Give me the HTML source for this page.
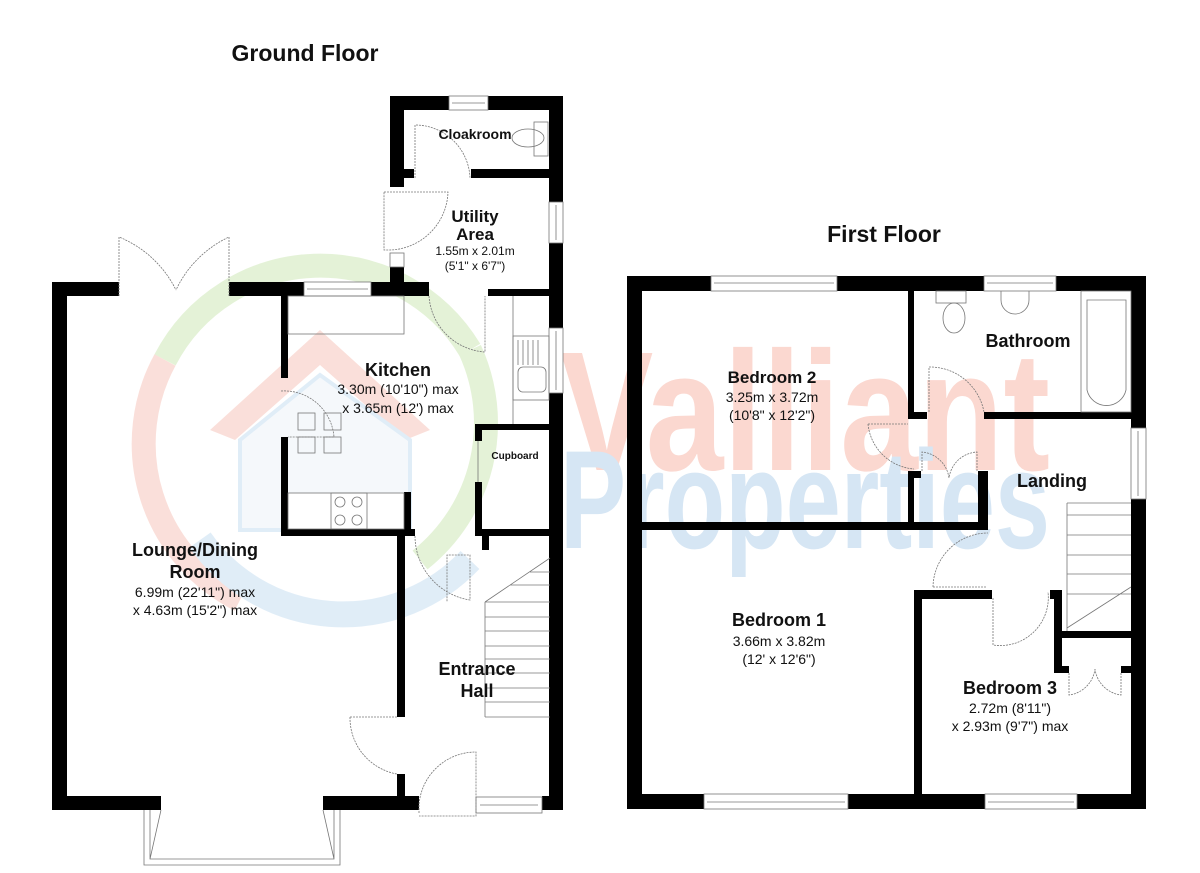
<!DOCTYPE html>
<html><head><meta charset="utf-8"><style>
html,body{margin:0;padding:0;background:#fff;}
svg{display:block;}
text{font-family:"Liberation Sans",Arial,sans-serif;fill:#111;}
.b{font-weight:bold;}
</style></head><body>
<svg width="1200" height="873" viewBox="0 0 1200 873" xmlns="http://www.w3.org/2000/svg">
<!-- watermark -->
<g opacity="0.55">
  <path d="M 165 360 A 175 175 0 0 1 470 350" fill="none" stroke="#cfe9b8" stroke-width="24"/>
  <path d="M 165 360 A 175 175 0 0 0 240 600" fill="none" stroke="#f7c6bc" stroke-width="24"/>
  <path d="M 470 350 A 175 175 0 0 1 420 560" fill="none" stroke="#cfe9b8" stroke-width="24"/>
  <path d="M 200 540 A 175 175 0 0 0 470 560" fill="none" stroke="#c8dff2" stroke-width="26"/>
  <path d="M 210 430 L 320 330 L 430 430 L 405 440 L 320 365 L 235 440 Z" fill="#f7c6bc"/>
  <path d="M 240 440 L 320 375 L 410 440 L 410 530 L 240 530 Z" fill="#eef3f9" stroke="#c8dff2" stroke-width="4"/>
</g>
<text x="560" y="470" font-size="170" font-weight="bold" textLength="490" lengthAdjust="spacingAndGlyphs" style="fill:#fbd8d0">Valliant</text>
<text x="560" y="548" font-size="140" font-weight="bold" textLength="490" lengthAdjust="spacingAndGlyphs" style="fill:#d6e6f4">Properties</text>

<!-- titles -->
<text x="305" y="61" font-size="23" class="b" text-anchor="middle">Ground Floor</text>
<text x="884" y="242" font-size="23" class="b" text-anchor="middle">First Floor</text>

<!-- GROUND FLOOR walls -->
<g fill="#000">
  <rect x="52" y="282" width="15" height="528"/>
  <rect x="52" y="282" width="67" height="14"/>
  <rect x="229" y="282" width="200" height="14"/>
  <rect x="390" y="96" width="14" height="91"/>
  <rect x="390" y="96" width="173" height="14"/>
  <rect x="390" y="267" width="14" height="29"/>
  <rect x="390" y="169" width="24" height="9"/>
  <rect x="471" y="169" width="80" height="9"/>
  <rect x="549" y="96" width="14" height="714"/>
  <rect x="488" y="289" width="62" height="7"/>
  <rect x="281" y="296" width="7" height="82"/>
  <rect x="281" y="437" width="7" height="99"/>
  <rect x="281" y="529" width="134" height="7"/>
  <rect x="404" y="492" width="7" height="44"/>
  <rect x="475" y="424" width="75" height="6"/>
  <rect x="475" y="424" width="7" height="17"/>
  <rect x="475" y="482" width="7" height="54"/>
  <rect x="475" y="529" width="75" height="7"/>
  <rect x="482" y="529" width="7" height="21"/>
  <rect x="397" y="536" width="8" height="181"/>
  <rect x="397" y="774" width="8" height="36"/>
  <rect x="52" y="796" width="109" height="14"/>
  <rect x="323" y="796" width="96" height="14"/>
  <rect x="542" y="796" width="21" height="14"/>
</g>
<!-- ground fixtures -->
<g fill="none" stroke="#777" stroke-width="0.8">
  <rect x="449" y="96" width="39" height="14" fill="#fff"/><line x1="452" y1="103" x2="485" y2="103"/>
  <rect x="549" y="202" width="14" height="41" fill="#fff"/><line x1="556" y1="205" x2="556" y2="240"/>
  <rect x="549" y="328" width="14" height="65" fill="#fff"/><line x1="556" y1="331" x2="556" y2="390"/>
  <rect x="304" y="282" width="67" height="14" fill="#fff"/><line x1="307" y1="289" x2="368" y2="289"/>
  <rect x="476" y="797" width="66" height="16" fill="#fff"/><line x1="480" y1="805" x2="538" y2="805"/>
  <path d="M119 296 V237 A110 110 0 0 1 176 290 M229 296 V237 A110 110 0 0 0 176 290" stroke-dasharray="2 1"/>
  <path d="M144 810 V865 H340 V810 M150 810 V859 H334 V810 M161 810 L150 859 M323 810 L334 859"/>
  <path d="M415 178 V125 A55 55 0 0 1 470 178" stroke-dasharray="2 1"/>
  <ellipse cx="528" cy="138" rx="16" ry="9"/><rect x="534" y="122" width="14" height="34"/>
  <path d="M384 192 H448 A60 60 0 0 1 390 250 H384 Z" stroke-dasharray="2 1"/>
  <rect x="390" y="253" width="14" height="14"/>
  <path d="M429 296 A60 60 0 0 0 485 352 V296" stroke-dasharray="2 1"/>
  <rect x="288" y="296" width="116" height="38"/>
  <rect x="513" y="336" width="36" height="64"/>
  <path d="M518 340 V365 M523 340 V365 M528 340 V365 M533 340 V365 M538 340 V365"/>
  <rect x="518" y="367" width="28" height="25" rx="5"/>
  <line x1="513" y1="296" x2="513" y2="424"/>
  <path d="M281 391 A50 50 0 0 1 334 437 H288" stroke-dasharray="2 1"/>
  <rect x="298" y="413" width="17" height="17"/><rect x="324" y="413" width="17" height="17"/>
  <rect x="298" y="437" width="17" height="16"/><rect x="324" y="437" width="17" height="16"/>
  <rect x="288" y="493" width="116" height="36" fill="#fff"/>
  <rect x="331" y="493" width="36" height="36"/>
  <circle cx="340" cy="502" r="5"/><circle cx="357" cy="502" r="5"/><circle cx="340" cy="520" r="5"/><circle cx="357" cy="520" r="5"/>
  <line x1="478" y1="441" x2="478" y2="482"/>
  <path d="M415 536 A65 65 0 0 0 470 600 V555 H447 V602" stroke-dasharray="2 1"/>
  <path d="M485 602 V717 M485 602 L550 558 M485 617 H550 M485 631 H550 M485 646 H550 M485 659 H550 M485 673 H550 M485 688 H550 M485 702 H550 M485 717 H550 M485 602 H550 M510 585 H550 M530 572 H550"/>
  <path d="M350 717 H397 M350 717 A57 57 0 0 0 397 774" stroke-dasharray="2 1"/>
  <path d="M419 813 V805 A57 57 0 0 1 476 752 V816 H419" stroke-dasharray="2 1"/>
</g>
<!-- ground labels -->
<text x="475" y="139" font-size="14" class="b" text-anchor="middle">Cloakroom</text>
<text x="475" y="222" font-size="17" class="b" text-anchor="middle">Utility</text>
<text x="475" y="240" font-size="17" class="b" text-anchor="middle">Area</text>
<text x="475" y="255" font-size="12" text-anchor="middle">1.55m x 2.01m</text>
<text x="475" y="270" font-size="12" text-anchor="middle">(5'1" x 6'7")</text>
<text x="398" y="376" font-size="18" class="b" text-anchor="middle">Kitchen</text>
<text x="398" y="394" font-size="14" text-anchor="middle">3.30m (10'10") max</text>
<text x="398" y="413" font-size="14" text-anchor="middle">x 3.65m (12') max</text>
<text x="515" y="459" font-size="10" class="b" text-anchor="middle">Cupboard</text>
<text x="195" y="556" font-size="18" class="b" text-anchor="middle">Lounge/Dining</text>
<text x="195" y="578" font-size="18" class="b" text-anchor="middle">Room</text>
<text x="195" y="597" font-size="14" text-anchor="middle">6.99m (22'11") max</text>
<text x="195" y="615" font-size="14" text-anchor="middle">x 4.63m (15'2") max</text>
<text x="477" y="675" font-size="18" class="b" text-anchor="middle">Entrance</text>
<text x="477" y="697" font-size="18" class="b" text-anchor="middle">Hall</text>

<!-- FIRST FLOOR walls -->
<g fill="#000">
  <rect x="627" y="276" width="15" height="533"/>
  <rect x="627" y="276" width="519" height="15"/>
  <rect x="1131" y="276" width="15" height="533"/>
  <rect x="627" y="794" width="519" height="15"/>
  <rect x="908" y="291" width="6" height="128"/>
  <rect x="908" y="412" width="19" height="7"/>
  <rect x="984" y="412" width="147" height="7"/>
  <rect x="642" y="522" width="346" height="8"/>
  <rect x="908" y="471" width="6" height="59"/>
  <rect x="908" y="471" width="13" height="7"/>
  <rect x="978" y="471" width="10" height="59"/>
  <rect x="914" y="590" width="8" height="204"/>
  <rect x="914" y="590" width="78" height="9"/>
  <rect x="1050" y="590" width="12" height="9"/>
  <rect x="1054" y="590" width="8" height="81"/>
  <rect x="1054" y="631" width="77" height="7"/>
  <rect x="1054" y="666" width="15" height="7"/>
  <rect x="1121" y="666" width="10" height="7"/>
</g>
<g fill="none" stroke="#777" stroke-width="0.8">
  <rect x="711" y="276" width="126" height="15" fill="#fff"/><line x1="714" y1="283" x2="834" y2="283"/>
  <rect x="984" y="276" width="72" height="15" fill="#fff"/><line x1="987" y1="283" x2="1053" y2="283"/>
  <rect x="1131" y="428" width="15" height="71" fill="#fff"/><line x1="1138" y1="431" x2="1138" y2="496"/>
  <rect x="704" y="794" width="144" height="15" fill="#fff"/><line x1="707" y1="802" x2="845" y2="802"/>
  <rect x="985" y="794" width="92" height="15" fill="#fff"/><line x1="988" y1="802" x2="1074" y2="802"/>
  <rect x="936" y="291" width="30" height="12"/><ellipse cx="954" cy="318" rx="11" ry="15"/>
  <path d="M1001 291 V300 A14 14 0 0 0 1029 300 V291"/>
  <rect x="1081" y="291" width="50" height="121"/>
  <path d="M1087 300 H1126 V390 A20 20 0 0 1 1087 390 Z"/>
  <path d="M929 412 V367 A55 55 0 0 1 984 412" stroke-dasharray="2 1"/>
  <path d="M868 424 H908 M868 424 A50 50 0 0 0 914 469" stroke-dasharray="2 1"/>
  <path d="M922 471 V452 A30 30 0 0 1 949 478 M977 471 V452 A30 30 0 0 0 949 478" stroke-dasharray="2 1"/>
  <path d="M933 587 H987 M933 587 A55 55 0 0 1 988 533" stroke-dasharray="2 1"/>
  <path d="M993 598 V645 A48 48 0 0 0 1048 592" stroke-dasharray="2 1"/>
  <path d="M1067 503 V631 M1067 503 H1131 M1067 515 H1131 M1067 535 H1131 M1067 555 H1131 M1067 574 H1131 M1067 594 H1131 M1067 628 L1131 587"/>
  <path d="M1069 673 V695 A30 30 0 0 0 1095 669 M1121 673 V695 A30 30 0 0 1 1095 669" stroke-dasharray="2 1"/>
</g>
<text x="772" y="383" font-size="17" class="b" text-anchor="middle">Bedroom 2</text>
<text x="772" y="402" font-size="14" text-anchor="middle">3.25m x 3.72m</text>
<text x="772" y="420" font-size="14" text-anchor="middle">(10'8" x 12'2")</text>
<text x="1028" y="347" font-size="18" class="b" text-anchor="middle">Bathroom</text>
<text x="1052" y="487" font-size="18" class="b" text-anchor="middle">Landing</text>
<text x="779" y="626" font-size="18" class="b" text-anchor="middle">Bedroom 1</text>
<text x="779" y="646" font-size="14" text-anchor="middle">3.66m x 3.82m</text>
<text x="779" y="664" font-size="14" text-anchor="middle">(12' x 12'6")</text>
<text x="1010" y="694" font-size="18" class="b" text-anchor="middle">Bedroom 3</text>
<text x="1010" y="713" font-size="14" text-anchor="middle">2.72m (8'11")</text>
<text x="1010" y="731" font-size="14" text-anchor="middle">x 2.93m (9'7") max</text>
</svg>
</body></html>
